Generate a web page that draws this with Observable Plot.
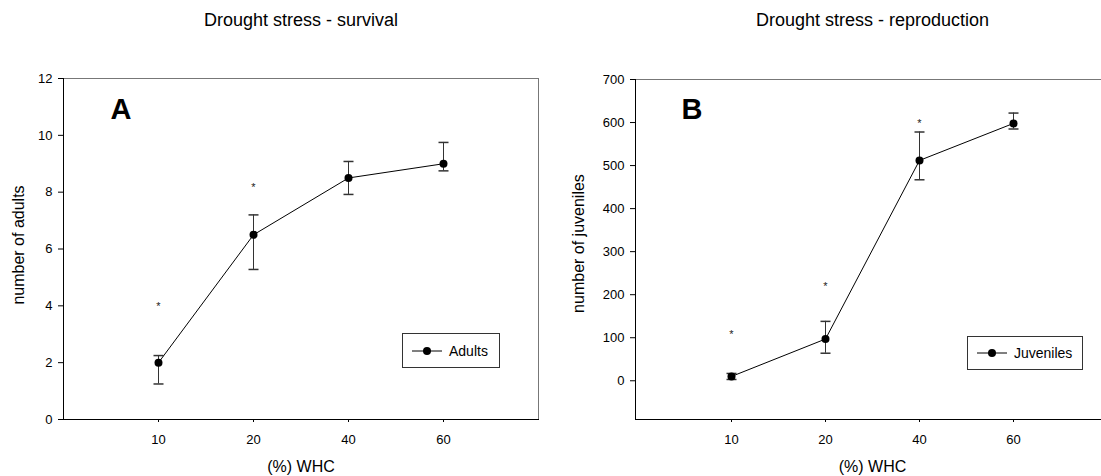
<!DOCTYPE html>
<html><head><meta charset="utf-8">
<script src="https://cdn.jsdelivr.net/npm/d3@7"></script>
<script src="https://cdn.jsdelivr.net/npm/@observablehq/plot@0.6"></script>
<style>
html,body{margin:0;padding:0;background:#fff;}
#wrap{position:relative;width:1101px;height:476px;overflow:hidden;font-family:"Liberation Sans",Arial,sans-serif;}
.panel{position:absolute;top:0;}
.legend{position:absolute;border:1px solid #333;background:#fff;display:flex;align-items:center;font-size:14px;color:#000;box-sizing:border-box;}
.legend svg{margin-left:9px;margin-right:7px;}
</style></head><body><div id="wrap"></div>
<script>
// Categories (x axis, % WHC)
const whc = [10, 20, 40, 60];

// Panel A: adults (survival)
const adultsMean = [2.0, 6.5, 8.5, 9.0];
const adultsLow  = [1.25, 5.28, 7.92, 8.75];
const adultsHigh = [2.25, 7.2, 9.08, 9.75];
const adultsStarX = [10, 20];
const adultsStarY = [4.07, 8.28];
const adultsTicks = [0, 2, 4, 6, 8, 10, 12];

// Panel B: juveniles (reproduction)
const juvMean = [10, 97, 512, 598];
const juvLow  = [3, 64, 467, 585];
const juvHigh = [17, 138, 578, 622];
const juvStarX = [10, 20, 40];
const juvStarY = [114, 227, 605];
const juvTicks = [0, 100, 200, 300, 400, 500, 600, 700];

const FONT = '"Liberation Sans", Arial, sans-serif';
const capSymbol = {
  draw(context, size) {
    const w = Math.sqrt(size / Math.PI);
    context.moveTo(-w, 0);
    context.lineTo(w, 0);
  }
};

function panel(cfg) {
  const data = whc.map((x, i) => ({x, m: cfg.mean[i], lo: cfg.low[i], hi: cfg.high[i]}));
  const stars = cfg.starX.map((x, i) => ({x, y: cfg.starY[i]}));
  return Plot.plot({
    width: 560,
    height: 476,
    marginTop: cfg.marginTop,
    marginBottom: 57,
    marginLeft: cfg.marginLeft,
    marginRight: cfg.marginRight,
    style: {fontFamily: FONT, fontSize: "13px", color: "#000", background: "transparent", overflow: "visible"},
    x: {type: "point", domain: whc, padding: 1},
    y: {domain: cfg.yDomain},
    marks: [
      Plot.frame({stroke: "#777"}),
      Plot.frame({anchor: "left", stroke: "#000"}),
      Plot.frame({anchor: "bottom", stroke: "#000"}),
      Plot.axisY({ticks: cfg.yTicks, tickSize: 5, tickPadding: 6, fontSize: 13, label: null}),
      Plot.axisX({tickSize: 3, tickPadding: 12, fontSize: 13, label: null}),
      Plot.ruleX(data, {x: "x", y1: "lo", y2: "hi", stroke: "#333"}),
      Plot.dot(data, {x: "x", y: "lo", symbol: capSymbol, r: 5, stroke: "#333", fill: "none"}),
      Plot.dot(data, {x: "x", y: "hi", symbol: capSymbol, r: 5, stroke: "#333", fill: "none"}),
      Plot.line(data, {x: "x", y: "m", stroke: "#000", strokeWidth: 1}),
      Plot.dot(data, {x: "x", y: "m", r: 4, fill: "#000"}),
      Plot.text(stars, {x: "x", y: "y", text: () => "*", fontSize: 11, dy: 3, fill: "#222"}),
      Plot.text([cfg.letter], {text: d => d, frameAnchor: "top-left", textAnchor: "start", lineAnchor: "middle", dx: cfg.letterDx, dy: cfg.letterDy, fontSize: 29, fontWeight: "bold"}),
      Plot.text([cfg.title], {text: d => d, frameAnchor: "top", textAnchor: "middle", lineAnchor: "middle", dy: 20 - cfg.marginTop, fontSize: 18}),
      Plot.text(["(%) WHC"], {text: d => d, frameAnchor: "bottom", textAnchor: "middle", lineAnchor: "middle", dy: 47, fontSize: 16}),
      Plot.text([cfg.ylabel], {text: d => d, frameAnchor: "left", textAnchor: "middle", lineAnchor: "middle", rotate: -90, dx: cfg.ylabelDx, dy: cfg.ylabelDy, fontSize: 16})
    ]
  });
}

function legend(label, pos) {
  const div = document.createElement("div");
  div.className = "legend";
  Object.assign(div.style, {left: pos.left + "px", top: pos.top + "px", width: pos.width + "px", height: pos.height + "px"});
  const ns = "http://www.w3.org/2000/svg";
  const svg = document.createElementNS(ns, "svg");
  svg.setAttribute("width", 30); svg.setAttribute("height", 10);
  const ln = document.createElementNS(ns, "line");
  ln.setAttribute("x1", 0); ln.setAttribute("x2", 30); ln.setAttribute("y1", 5); ln.setAttribute("y2", 5);
  ln.setAttribute("stroke", "#000");
  const c = document.createElementNS(ns, "circle");
  c.setAttribute("cx", 15); c.setAttribute("cy", 5); c.setAttribute("r", 4); c.setAttribute("fill", "#000");
  svg.append(ln, c);
  const span = document.createElement("span");
  span.textContent = label;
  div.append(svg, span);
  return div;
}

const wrap = document.getElementById("wrap");

const a = panel({
  title: "Drought stress - survival", letter: "A", ylabel: "number of adults",
  yDomain: [0, 12], yTicks: adultsTicks,
  mean: adultsMean, low: adultsLow, high: adultsHigh, starX: adultsStarX, starY: adultsStarY,
  marginTop: 78, marginLeft: 63, marginRight: 22,
  letterDx: 47, letterDy: 31, ylabelDx: -45, ylabelDy: -4
});
a.classList.add("panel"); a.style.left = "0px";

const b = panel({
  title: "Drought stress - reproduction", letter: "B", ylabel: "number of juveniles",
  yDomain: [-90, 700], yTicks: juvTicks,
  mean: juvMean, low: juvLow, high: juvHigh, starX: juvStarX, starY: juvStarY,
  marginTop: 79, marginLeft: 75, marginRight: 11,
  letterDx: 46, letterDy: 30, ylabelDx: -57, ylabelDy: -6
});
b.classList.add("panel"); b.style.left = "560px";

wrap.append(a, b);
wrap.append(legend("Adults", {left: 402, top: 333, width: 98, height: 35}));
wrap.append(legend("Juveniles", {left: 967, top: 336, width: 116, height: 34}));
</script>
</body></html>
